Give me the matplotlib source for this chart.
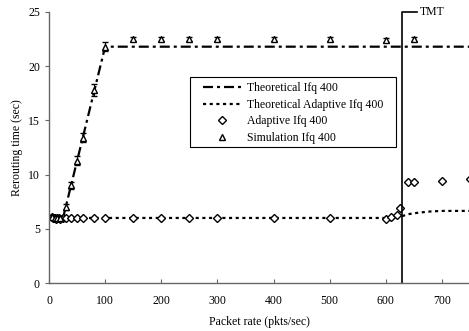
import matplotlib
matplotlib.use("Agg")
import matplotlib.pyplot as plt
from matplotlib.lines import Line2D
from matplotlib.patches import Rectangle

plt.rcParams['font.family'] = ['Liberation Serif', 'DejaVu Serif']

# Theoretical Ifq 400 (dash-dot)
theo_x = [25, 100, 750]
theo_y = [6.0, 21.8, 21.8]

# Theoretical Adaptive Ifq 400 (dotted)
theo_ad_x = [0, 600, 625, 640, 660, 680, 700, 750]
theo_ad_y = [6.0, 6.0, 6.1, 6.35, 6.5, 6.6, 6.65, 6.65]

# Adaptive Ifq 400 (diamonds)
ad_x = [5, 7, 9, 11, 13, 15, 17, 20, 25, 30, 40, 50, 60, 80, 100, 150, 200, 250, 300,
        400, 500, 600, 610, 620, 625, 640, 650, 700, 750]
ad_y = [6.1, 6.0, 6.0, 6.0, 5.95, 6.0, 6.0, 5.95, 6.0, 6.0, 6.0, 6.0, 6.0, 6.0, 6.0, 6.0,
        6.0, 6.0, 6.0, 6.0, 6.0, 5.95, 6.05, 6.3, 6.9, 9.3, 9.3, 9.4, 9.6]

# Simulation Ifq 400 (triangles with error bars)
sim_x = [5, 10, 15, 20, 30, 40, 50, 60, 80, 100, 150, 200, 250, 300, 400, 500, 600, 650]
sim_y = [6.1, 6.0, 6.0, 6.0, 7.0, 9.0, 11.3, 13.4, 17.8, 21.8, 22.5, 22.5, 22.5, 22.5,
         22.5, 22.5, 22.4, 22.5]
sim_err = [0.2, 0.2, 0.2, 0.2, 0.3, 0.35, 0.4, 0.4, 0.55, 0.4, 0.2, 0.2, 0.2, 0.2,
           0.2, 0.2, 0.2, 0.2]

tmt_x = 629

DASHDOT = (0, (4.5, 1.8, 1.35, 1.8))
DOTTED = (0, (1.4, 1.6))

fig = plt.figure(figsize=(4.69, 3.31), dpi=100)
ax = fig.add_axes([49/469, 1-283/331, 421/469, 271/331])

ax.plot(theo_x, theo_y, color='black', lw=1.6, ls=DASHDOT)
ax.plot(theo_ad_x, theo_ad_y, color='black', lw=1.6, ls=DOTTED)
ax.plot(ad_x, ad_y, ls='none', marker='D', markersize=3.6, mfc='white', mec='black', mew=1.0)
ax.errorbar(sim_x, sim_y, yerr=sim_err, ls='none', marker='^', markersize=4.5,
            mfc='white', mec='black', mew=1.0, ecolor='black', elinewidth=0.8,
            capsize=2.5, capthick=0.8)

ax.plot([tmt_x, tmt_x, 655], [0, 25, 25], color='black', lw=1.2, clip_on=False)
ax.text(660, 25, 'TMT', fontsize=8.5, va='center', ha='left')

ax.set_xlim(0, 750)
ax.set_ylim(0, 25)
ax.set_xticks([0, 100, 200, 300, 400, 500, 600, 700])
ax.set_yticks([0, 5, 10, 15, 20, 25])
ax.tick_params(axis='x', direction='in', length=3, labelsize=8.5, pad=9, color='#666666')
ax.tick_params(axis='y', direction='out', length=3, labelsize=8.5, color='#666666')
for s in ['top', 'right']:
    ax.spines[s].set_visible(False)
for s in ['left', 'bottom']:
    ax.spines[s].set_color('#666666')
    ax.spines[s].set_linewidth(1.0)

ax.set_xlabel('Packet rate (pkts/sec)', fontsize=8.5, labelpad=6)
ax.set_ylabel('Rerouting time (sec)', fontsize=8.5, labelpad=4)

handles = [
    Line2D([], [], color='black', lw=1.6, ls=DASHDOT),
    Line2D([], [], color='black', lw=1.6, ls=DOTTED),
    Line2D([], [], ls='none', marker='D', markersize=3.6, mfc='white', mec='black', mew=1.0),
    Line2D([], [], ls='none', marker='^', markersize=4.5, mfc='white', mec='black', mew=1.0),
]
labels = ['Theoretical Ifq 400', 'Theoretical Adaptive Ifq 400', 'Adaptive Ifq 400',
          'Simulation Ifq 400']
leg = ax.legend(handles, labels, loc='upper left', bbox_to_anchor=(203/469, 1-82/331),
                bbox_transform=fig.transFigure, fontsize=8.5, frameon=False,
                handlelength=3.2, labelspacing=0.4, borderpad=0, handletextpad=0.5,
                borderaxespad=0)
fig.patches.append(Rectangle((190/469, 1-147/331), 206/469, 70/331, transform=fig.transFigure,
                             fill=False, edgecolor='black', lw=0.8, zorder=5))

fig.savefig('out.png', dpi=100)
